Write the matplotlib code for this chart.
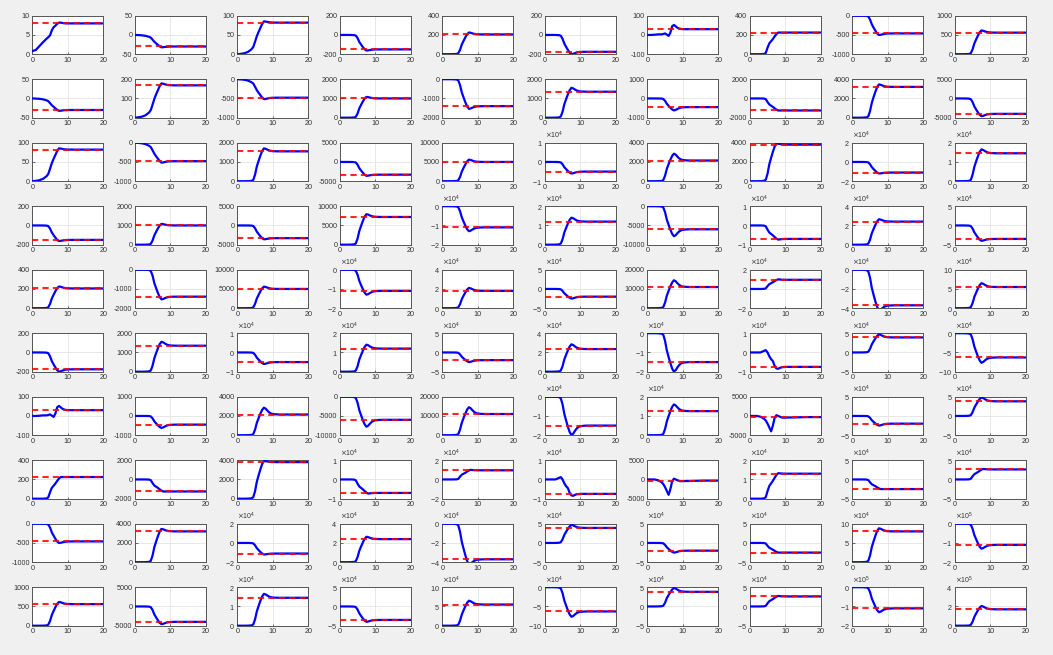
import numpy as np
import matplotlib
matplotlib.use('Agg')
import matplotlib.pyplot as plt

plt.rcParams['font.family'] = ['Liberation Sans', 'DejaVu Sans']
plt.rcParams['axes.unicode_minus'] = False

# time samples of the responses
t = [0, 1, 2, 3, 4, 4.5, 5, 5.5, 6, 6.5, 7, 7.5, 8, 8.5, 9, 9.5, 10, 11, 12, 14, 16, 18, 20]

# normalised response shapes (fraction of target)
rise_os = [0, 0, 0, 0.002, 0.01, 0.04, 0.2, 0.45, 0.62, 0.78, 0.92, 1, 1, 1, 1, 1, 1, 1, 1, 1, 1, 1, 1]
over_os = [0, 0, 0, 0.002, 0.01, 0.04, 0.2, 0.45, 0.62, 0.78, 0.92, 1, 0.85, 0.55, 0.3, 0.15, 0.07, 0.02, 0, 0, 0, 0, 0]
rise_e = [0, 0.01, 0.03, 0.07, 0.15, 0.22, 0.38, 0.55, 0.68, 0.8, 0.92, 1, 1, 1, 1, 1, 1, 1, 1, 1, 1, 1, 1]
over_e = [0, 0.01, 0.03, 0.07, 0.15, 0.22, 0.38, 0.55, 0.68, 0.8, 0.92, 1, 0.85, 0.55, 0.3, 0.15, 0.07, 0.02, 0, 0, 0, 0, 0]
rise_g = [0, 0, 0, 0, 0.01, 0.06, 0.3, 0.5, 0.6, 0.7, 0.82, 0.93, 1, 1, 1, 1, 1, 1, 1, 1, 1, 1, 1]
over_g = [0, 0, 0, 0, 0.01, 0.06, 0.3, 0.5, 0.6, 0.7, 0.82, 0.93, 1, 0.6, 0.3, 0.12, 0.04, 0, 0, 0, 0, 0, 0]

# panels with their own shape (absolute values)
curve_lin = [0.8, 1.1, 2.1, 3.1, 4.0, 4.4, 4.9, 6.2, 7.0, 7.4, 7.9, 8.2, 8.2, 8.1, 8.05, 8.0, 8.0, 8.0, 8.0, 8.0, 8.0, 8.0, 8.0]
curve_wig = [0, 0, 1, 3, 3, 5, 8, 2, -5, 12, 45, 52, 45, 37, 33, 31, 30, 30, 30, 30, 30, 30, 30]
curve_bump = [0, 0, 0, 0, 800, 1200, 0, -2000, -3500, -4500, -7000, -8300, -8500, -8000, -7700, -7600, -7500,
              -7500, -7500, -7500, -7500, -7500, -7500]
curve_dip = [0, 0, 0, -200, -700, -1200, -2000, -3000, -4000, -2500, -500, 200, 0, -200, -400, -450, -450,
             -400, -400, -350, -300, -300, -300]

# upper triangle of the symmetric 10x10 grid (row i holds columns i..10)
target_up = [
    [8, -30, 82, -150, 205, -175, 30, 225, -460, 560],
    [168, -480, 1000, -1400, 1350, -450, -1250, 3200, -4000],
    [1550, -3300, 5000, -5000, 2150, 3800, -11000, 14500],
    [7200, -11000, 12000, -6000, -7000, 24000, -35000],
    [18000, -20000, 11000, 9500, -37000, 55000],
    [23500, -15000, -7500, 39000, -63000],
    [12500, -300, -20000, 38000],
    [13000, -25000, 26000],
    [80000, -110000],
    [170000],
]
ylo_up = [
    [0, -50, 0, -200, 0, -200, -100, 0, -1000, 0],
    [0, -1000, 0, -2000, 0, -1000, -2000, 0, -5000],
    [0, -5000, 0, -10000, 0, 0, -20000, 0],
    [0, -20000, 0, -10000, -10000, 0, -50000],
    [0, -50000, 0, -20000, -40000, 0],
    [0, -20000, -10000, -50000, -100000],
    [0, -5000, -50000, -50000],
    [0, -50000, -50000],
    [0, -200000],
    [0],
]
yhi_up = [
    [10, 50, 100, 200, 400, 200, 100, 400, 0, 1000],
    [200, 0, 2000, 0, 2000, 1000, 2000, 4000, 5000],
    [2000, 5000, 10000, 10000, 4000, 4000, 20000, 20000],
    [10000, 0, 20000, 0, 10000, 40000, 50000],
    [40000, 50000, 20000, 20000, 0, 100000],
    [40000, 0, 10000, 50000, 0],
    [20000, 5000, 50000, 50000],
    [20000, 50000, 50000],
    [100000, 0],
    [400000],
]
expo_up = [
    [0, 0, 0, 0, 0, 0, 0, 0, 0, 0],
    [0, 0, 0, 0, 0, 0, 0, 0, 0],
    [0, 0, 0, 4, 0, 0, 4, 4],
    [0, 4, 4, 0, 4, 4, 4],
    [4, 4, 0, 4, 4, 4],
    [4, 4, 4, 4, 4],
    [4, 0, 4, 4],
    [4, 4, 4],
    [4, 5],
    [5],
]
peak_up = [
    [1.0, 1.07, 1.04, 1.08, 1.1, 1.14, 1.0, 1.0, 1.09, 1.1],
    [1.06, 1.08, 1.08, 1.1, 1.15, 1.38, 1.0, 1.08, 1.15],
    [1.1, 1.09, 1.12, 1.2, 1.33, 1.03, 1.09, 1.14],
    [1.1, 1.18, 1.17, 1.3, 1.05, 1.1, 1.14],
    [1.17, 1.25, 1.32, 1.05, 1.14, 1.18],
    [1.21, 1.33, 1.0, 1.2, 1.22],
    [1.28, 1.0, 1.25, 1.26],
    [1.02, 1.0, 1.05],
    [1.1, 1.18],
    [1.2],
]
kind_up = [
    ['lin', 'e', 'e', 'os', 'os', 'os', 'wig', 'g', 'os', 'os'],
    ['e', 'e', 'os', 'os', 'os', 'os', 'g', 'os', 'os'],
    ['os', 'os', 'os', 'os', 'os', 'os', 'os', 'os'],
    ['os', 'os', 'os', 'os', 'g', 'os', 'os'],
    ['os', 'os', 'os', 'g', 'os', 'os'],
    ['os', 'os', 'bump', 'os', 'os'],
    ['os', 'dip', 'os', 'os'],
    ['g', 'g', 'g'],
    ['os', 'os'],
    ['os'],
]

shapes = {'os': (rise_os, over_os), 'e': (rise_e, over_e), 'g': (rise_g, over_g)}
specials = {'lin': curve_lin, 'wig': curve_wig, 'bump': curve_bump, 'dip': curve_dip}


def cell(tri, i, j):
    a, b = min(i, j), max(i, j)
    return tri[a][b - a]


W, H = 1053, 655
fig = plt.figure(figsize=(W / 100, H / 100), dpi=100)
fig.patch.set_facecolor('#f0f0f0')

txt = '#333333'
t_arr = np.array(t)
for i in range(10):
    for j in range(10):
        left = 32.3 + 102.5 * j
        top = 15.7 + 63.5 * i
        ax = fig.add_axes([left / W, 1 - (top + 38.5) / H, 71 / W, 38.5 / H])
        tgt = cell(target_up, i, j)
        kind = cell(kind_up, i, j)
        if kind in specials:
            y = np.array(specials[kind], dtype=float)
        else:
            rise, over = shapes[kind]
            p = cell(peak_up, i, j)
            y = tgt * (np.array(rise) + (p - 1) * np.array(over))
        ax.plot(t_arr, y, color='#0000ff', lw=1.6, zorder=3)
        ax.plot([0, 20], [tgt, tgt], color='#ff0000', lw=1.5, dashes=(3, 2), zorder=4, alpha=0.85)

        lo, hi = cell(ylo_up, i, j), cell(yhi_up, i, j)
        ax.set_xlim(0, 20)
        ax.set_ylim(lo, hi)
        ax.set_xticks([0, 10, 20])
        ax.set_yticks([lo, (lo + hi) / 2, hi])
        e = cell(expo_up, i, j)
        if e > 0:
            ax.ticklabel_format(axis='y', style='sci', scilimits=(e, e), useMathText=True)
        else:
            ax.ticklabel_format(axis='y', style='plain', useOffset=False)
        ax.yaxis.get_offset_text().set_fontsize(5)
        ax.yaxis.get_offset_text().set_color(txt)
        ax.grid(True, color='#e3e3e3', lw=0.6)
        ax.set_axisbelow(True)
        ax.tick_params(direction='in', length=1.8, width=0.5, labelsize=5.2,
                       colors=txt, pad=1.8)
        for s in ax.spines.values():
            s.set_color('#555555')
            s.set_linewidth(0.7)

fig.savefig('out.png', dpi=100, facecolor=fig.get_facecolor())
